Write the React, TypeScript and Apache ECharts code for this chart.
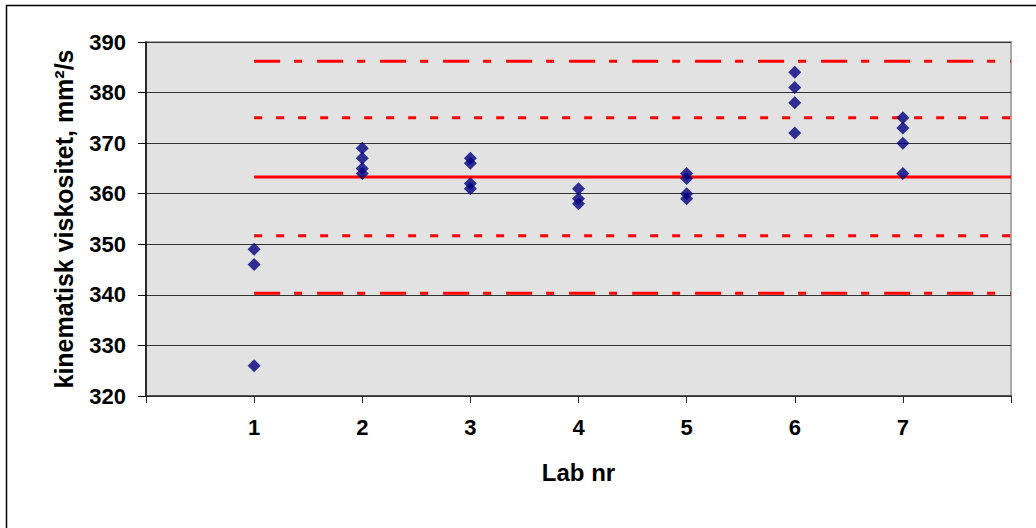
import React, { useEffect, useRef } from "react";
import * as echarts from "echarts";

// Measurements per lab (kinematic viscosity, mm²/s)
const labs = [1, 2, 3, 4, 5, 6, 7];
const lab1 = [349, 346, 326];
const lab2 = [369, 367, 365, 364];
const lab3 = [367, 366, 362, 361];
const lab4 = [361, 359, 358];
const lab5 = [364, 363, 360, 359];
const lab6 = [384, 381, 378, 372];
const lab7 = [375, 373, 370, 364];
const labValues = [lab1, lab2, lab3, lab4, lab5, lab6, lab7];

// Reference levels
const meanLevel = 363.3;
const innerLimits = [375.0, 351.7];
const outerLimits = [386.2, 340.3];
const lineStart = 1;
const lineEnd = 8;

// Axis ranges
const xMin = 0;
const xMax = 8;
const yMin = 320;
const yMax = 390;
const yStep = 10;

const FONT = "'Liberation Sans', Arial, sans-serif";

export default function App() {
  const ref = useRef<HTMLDivElement>(null);

  useEffect(() => {
    if (!ref.current) return;
    const chart = echarts.init(ref.current, undefined, { renderer: "svg" });

    const points: number[][] = [];
    labValues.forEach((vals, i) => {
      vals.forEach((v) => points.push([labs[i], v]));
    });

    const refLine = (value: number, type: any) => ({
      type: "line",
      data: [
        [lineStart, value],
        [lineEnd, value],
      ],
      showSymbol: false,
      symbol: "none",
      silent: true,
      z: 2,
      lineStyle: { color: "#ff0000", width: 3, type },
    });

    chart.setOption({
      animation: false,
      backgroundColor: "#ffffff",
      graphic: [
        {
          type: "rect",
          shape: { x: 6.5, y: 5.5, width: 1100, height: 600 },
          style: { fill: "none", stroke: "#000000", lineWidth: 1.5 },
          silent: true,
          z: 0,
        },
      ],
      grid: {
        left: 146,
        right: 25,
        top: 42,
        bottom: 132,
        show: true,
        backgroundColor: "#e2e2e2",
        borderColor: "#a8a8a8",
        borderWidth: 2,
      },
      xAxis: {
        type: "value",
        min: xMin,
        max: xMax,
        interval: 1,
        name: "Lab nr",
        nameLocation: "middle",
        nameGap: 64,
        nameTextStyle: {
          fontFamily: FONT,
          fontWeight: "bold",
          fontSize: 24,
          color: "#000",
        },
        axisLine: { show: true, lineStyle: { color: "#333333", width: 1.5 } },
        axisTick: { show: true, length: 7, lineStyle: { color: "#222222" } },
        axisLabel: {
          margin: 20,
          fontFamily: FONT,
          fontWeight: "bold",
          fontSize: 22,
          color: "#000",
          formatter: (v: number) => (v >= 1 && v <= 7 ? String(v) : ""),
        },
        splitLine: { show: false },
      },
      yAxis: {
        type: "value",
        min: yMin,
        max: yMax,
        interval: yStep,
        name: "kinematisk viskositet, mm²/s",
        nameLocation: "middle",
        nameGap: 70,
        nameTextStyle: {
          fontFamily: FONT,
          fontWeight: "bold",
          fontSize: 25,
          color: "#000",
        },
        axisLine: { show: true, lineStyle: { color: "#000000", width: 1.5 } },
        axisTick: { show: true, length: 8, lineStyle: { color: "#000000" } },
        axisLabel: {
          margin: 20,
          fontFamily: FONT,
          fontWeight: "bold",
          fontSize: 22,
          color: "#000",
        },
        splitLine: { show: true, lineStyle: { color: "#333333", width: 1 } },
      },
      series: [
        refLine(outerLimits[0], [26, 14, 8, 15]),
        refLine(outerLimits[1], [26, 14, 8, 15]),
        refLine(innerLimits[0], [8, 14]),
        refLine(innerLimits[1], [8, 14]),
        refLine(meanLevel, "solid"),
        {
          type: "scatter",
          data: points,
          symbol: "diamond",
          symbolSize: 13,
          z: 5,
          itemStyle: { color: "#000080" },
        },
      ],
    });

    return () => chart.dispose();
  }, []);

  return (
    <div
      ref={ref}
      style={{ position: "fixed", left: 0, top: 0, width: 1036, height: 528 }}
    />
  );
}
